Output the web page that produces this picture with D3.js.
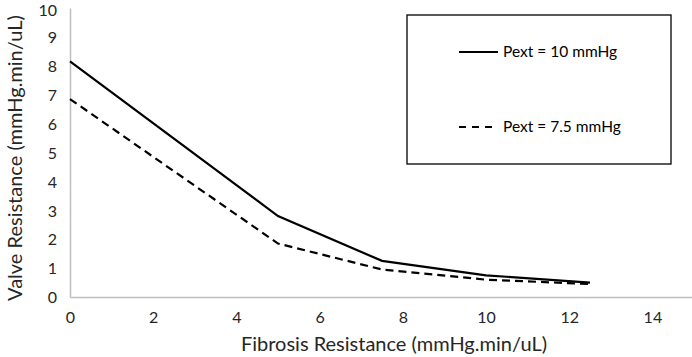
<!DOCTYPE html>
<html><head><meta charset="utf-8">
<script src="https://cdn.jsdelivr.net/npm/d3@7"></script>
<style>body{margin:0;background:#fff;} svg{display:block;}</style>
</head><body>
<svg id="chart" width="692" height="357"></svg>
<script>
const fibrosis = [0, 5, 7.5, 10, 12.5];
const pext10 = [8.15, 2.8, 1.25, 0.75, 0.5];
const pext75 = [6.85, 1.85, 0.95, 0.6, 0.45];
const xTicks = [0, 2, 4, 6, 8, 10, 12, 14];
const yTicks = [0, 1, 2, 3, 4, 5, 6, 7, 8, 9, 10];
const seriesNames = ["Pext = 10 mmHg", "Pext = 7.5 mmHg"];

const font = "Lato, 'Open Sans', sans-serif";
const svg = d3.select("#chart");
const x = d3.scaleLinear().domain([0, 15]).range([70, 694]);
const y = d3.scaleLinear().domain([0, 10]).range([297, 8]);

const xAxis = svg.append("g").attr("transform", `translate(0,${y(0)})`)
  .call(d3.axisBottom(x).tickValues(xTicks).tickSize(0).tickPadding(15));
const yAxis = svg.append("g").attr("transform", `translate(${x(0)},0)`)
  .call(d3.axisLeft(y).tickValues(yTicks).tickSize(0).tickPadding(13));
[xAxis, yAxis].forEach(g => {
  g.select(".domain").attr("stroke", "#bfbfbf").attr("stroke-width", 1.5);
  g.selectAll("text").attr("font-family", font).attr("font-size", 16).attr("fill", "#262626");
});
yAxis.selectAll("text").attr("dy", d => d === 10 ? "0.45em" : "0.36em");

const line = d3.line().x((d, i) => x(fibrosis[i])).y(d => y(d));
svg.append("path").datum(pext10).attr("d", line).attr("fill", "none")
  .attr("stroke", "#000").attr("stroke-width", 2.2);
svg.append("path").datum(pext75).attr("d", line).attr("fill", "none")
  .attr("stroke", "#000").attr("stroke-width", 2.2).attr("stroke-dasharray", "8,5");

svg.append("text").attr("x", 394).attr("y", 351).attr("text-anchor", "middle")
  .attr("font-family", font).attr("font-size", 20).attr("fill", "#262626")
  .text("Fibrosis Resistance (mmHg.min/uL)");
svg.append("text").attr("transform", "translate(22,158) rotate(-90)").attr("text-anchor", "middle")
  .attr("font-family", font).attr("font-size", 20).attr("fill", "#262626")
  .text("Valve Resistance (mmHg.min/uL)");

// legend
const lg = svg.append("g");
lg.append("rect").attr("x", 407).attr("y", 15).attr("width", 264).attr("height", 149)
  .attr("fill", "#fff").attr("stroke", "#000").attr("stroke-width", 1.3);
const ly = [52, 127];
seriesNames.forEach((n, i) => {
  lg.append("line").attr("x1", 459).attr("x2", 498).attr("y1", ly[i]).attr("y2", ly[i])
    .attr("stroke", "#000").attr("stroke-width", 2.2)
    .attr("stroke-dasharray", i === 1 ? "7,6" : null);
  lg.append("text").attr("x", 503).attr("y", ly[i]).attr("dy", "0.35em")
    .attr("font-family", font).attr("font-size", 15.5).attr("fill", "#000").text(n);
});
</script>
</body></html>
